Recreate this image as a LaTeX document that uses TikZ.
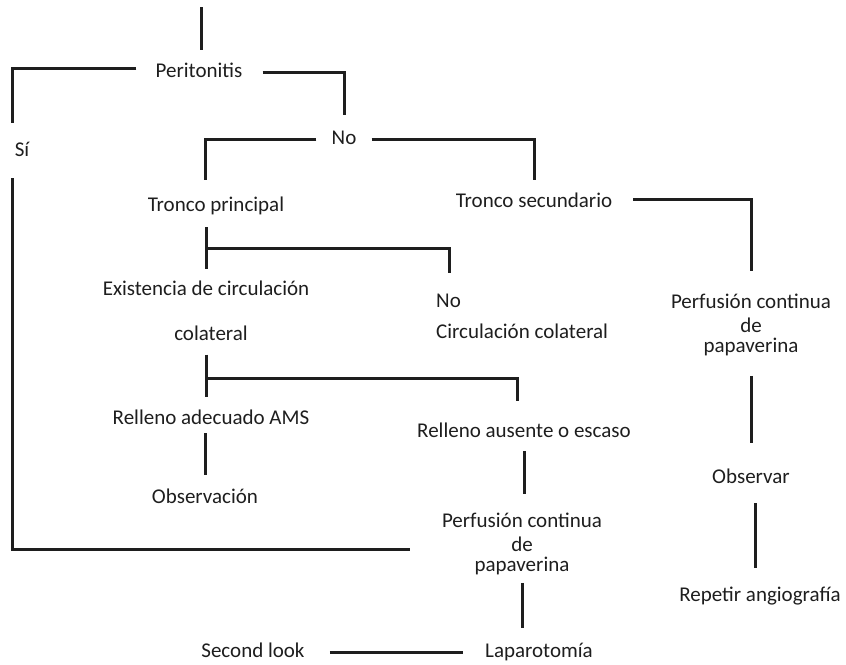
\documentclass[tikz,border=0pt]{standalone}
\usepackage{fontspec}
\setmainfont{Carlito}
\usetikzlibrary{calc}
\definecolor{ink}{HTML}{1E1E1E}
\tikzset{
  lbl/.style={font=\fontsize{21}{20}\selectfont, text=ink, inner sep=0pt,
              text height=15pt, text depth=5pt, anchor=base},
  multi/.style={font=\fontsize{21}{20}\selectfont, text=ink, inner sep=0pt, align=center},
  link/.style={draw=ink, line width=3pt}
}
\begin{document}
\begin{tikzpicture}[x=1pt,y=-1pt]
\useasboundingbox (0,0) rectangle (846,664);

% labels
\node[lbl] (peri) at (199,77) {Peritonitis};
\node[lbl] (si)   at (22,156) {Sí};
\node[lbl] (no1)  at (344,144) {No};
\node[lbl] (tp)   at (216,211) {Tronco principal};
\node[lbl] (ts)   at (534,207) {Tronco secundario};
\node[multi, anchor=north] (exist) at (206,280.5)
  {Existencia de circulación\\[25pt]\hspace*{10pt}colateral};
\node[multi, anchor=north west, align=left] (nocc) at (436,293.5)
  {No\\[11pt]Circulación colateral};
\node[multi, anchor=north] (pcp1) at (751,293.5)
  {Perfusión continua\\[4pt]de\\papaverina};
\node[lbl] (rams) at (211,424) {Relleno adecuado AMS};
\node[lbl] (rae)  at (524,437) {Relleno ausente o escaso};
\node[lbl] (obs)  at (205,503) {Observación};
\node[lbl] (obsv) at (751,483) {Observar};
\node[multi, anchor=north] (pcp2) at (522,512.5)
  {Perfusión continua\\[4pt]de\\papaverina};
\node[lbl] (rep)  at (760,601) {Repetir angiografía};
\node[lbl] (sl)   at (253,657) {Second look};
\node[lbl] (lap)  at (539,657) {Laparotomía};

% entry line
\coordinate (t0) at (201,7);
\draw[link, shorten >=12pt] (t0) -- (t0 |- peri.north);

% peritonitis: yes / no
\draw[link, shorten <=19pt, shorten >=18pt]
  ([yshift=4pt]peri.west) -| ([xshift=-2pt]si.north west);
\draw[link, shorten <=17pt]
  ([xshift=-2pt]si.south west) |- ([xshift=-32pt,yshift=-6pt]pcp2.west);
\draw[link, shorten <=20pt, shorten >=14pt] (peri.east) -| (no1.north);

% no: main or secondary trunk
\draw[link, shorten <=15pt, shorten >=16pt] (no1.west) -| ([xshift=-11pt]tp.north);
\draw[link, shorten <=15pt, shorten >=12pt] (no1.east) -| (ts.north);

% secondary trunk branch
\draw[link, shorten <=21pt, shorten >=23pt] ([yshift=3pt]ts.east) -| (pcp1.north);
\draw[link, shorten <=20pt, shorten >=25pt] (pcp1.south) -- (pcp1.south |- obsv.north);
\draw[link, shorten <=15pt, shorten >=18pt]
  ([xshift=4pt]obsv.south) -- ([xshift=4pt]obsv.south |- rep.north);

% main trunk: collateral circulation
\coordinate (tpa) at (exist.north |- tp.south);
\draw[link, shorten <=11pt, shorten >=12pt] (tpa) -- (exist.north);
\draw[link, shorten >=21pt]
  ($(tpa)!0.5!(exist.north)$) -| ([xshift=13pt]nocc.north west);

% filling of the mesenteric artery
\draw[link, shorten <=14pt, shorten >=12pt] (exist.south) -- (exist.south |- rams.north);
\draw[link, shorten >=21pt]
  ($(exist.south)!0.55!(exist.south |- rams.north)$) -| ([xshift=-7pt]rae.north);
\draw[link, shorten <=4pt, shorten >=13pt] (obs.north |- rams.south) -- (obs.north);
\draw[link, shorten <=9pt, shorten >=19pt] (rae.south) -- (rae.south |- pcp2.north);
\draw[link, shorten <=8pt, shorten >=14pt] (pcp2.south) -- (pcp2.south |- lap.north);

% laparotomy and second look
\draw[link, shorten <=25pt, shorten >=22pt] (sl.east) -- (lap.west);
\end{tikzpicture}
\end{document}
